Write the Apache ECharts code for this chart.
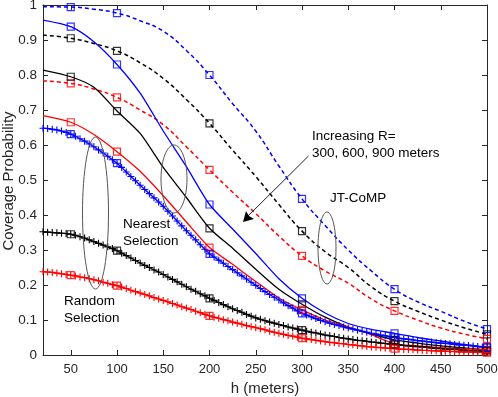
<!DOCTYPE html>
<html><head><meta charset="utf-8">
<script src="https://cdn.jsdelivr.net/npm/echarts@6/dist/echarts.min.js"></script>
<style>html,body{margin:0;padding:0;background:#fff}#c{width:498px;height:397px}</style>
</head><body><div id="c"></div>
<script>
// x positions (meters)
const xCoarse = [20,50,75,100,125,150,175,200,225,250,275,300,325,350,375,400,425,450,475,500];
const xFine = [];
for (let v = 20; v <= 500; v += 5) xFine.push(v);
const markerX = [50,100,200,300,400,500];
const xTicks = [50,100,150,200,250,300,350,400,450,500];

// JT-CoMP (dashed)
const jtBlue  = [0.995,0.994,0.988,0.977,0.955,0.925,0.870,0.800,0.718,0.640,0.540,0.446,0.370,0.300,0.240,0.188,0.152,0.125,0.097,0.074];
const jtBlack = [0.914,0.905,0.890,0.869,0.835,0.790,0.730,0.662,0.585,0.510,0.430,0.354,0.295,0.250,0.195,0.154,0.125,0.100,0.078,0.059];
const jtRed   = [0.783,0.776,0.760,0.736,0.700,0.658,0.595,0.529,0.465,0.404,0.340,0.283,0.240,0.205,0.160,0.126,0.100,0.077,0.060,0.046];

// Nearest selection (solid)
const nsBlue  = [0.957,0.938,0.895,0.830,0.748,0.640,0.538,0.430,0.360,0.290,0.218,0.162,0.120,0.090,0.073,0.062,0.050,0.040,0.030,0.022];
const nsBlack = [0.814,0.795,0.765,0.697,0.633,0.536,0.450,0.362,0.305,0.245,0.188,0.145,0.108,0.080,0.060,0.043,0.034,0.026,0.020,0.014];
const nsRed   = [0.684,0.665,0.630,0.581,0.525,0.455,0.380,0.307,0.259,0.210,0.163,0.129,0.100,0.080,0.058,0.032,0.026,0.021,0.018,0.015];

// Random selection (plus markers)
const rsBlue = [0.648,0.647,0.645,0.643,0.640,0.636,0.631,0.625,0.618,0.611,0.603,
0.595,0.586,0.577,0.568,0.558,0.548,0.536,0.523,0.510,0.498,
0.485,0.473,0.461,0.449,0.437,0.425,0.411,0.397,0.383,0.369,
0.355,0.342,0.329,0.315,0.302,0.289,0.280,0.271,0.262,0.253,
0.244,0.235,0.226,0.217,0.208,0.199,0.190,0.181,0.173,0.165,
0.157,0.149,0.141,0.134,0.126,0.119,0.114,0.109,0.104,0.099,
0.095,0.091,0.087,0.084,0.080,0.077,0.074,0.071,0.068,0.065,
0.062,0.060,0.057,0.055,0.052,0.050,0.048,0.046,0.045,0.043,
0.041,0.040,0.038,0.037,0.035,0.034,0.033,0.032,0.030,0.029,
0.028,0.027,0.026,0.024,0.023,0.022];
const rsBlack = [0.352,0.351,0.350,0.349,0.348,0.347,0.345,0.342,0.338,0.334,0.329,
0.324,0.319,0.314,0.309,0.304,0.298,0.291,0.284,0.277,0.270,
0.263,0.256,0.250,0.243,0.237,0.230,0.223,0.216,0.209,0.202,
0.195,0.188,0.182,0.175,0.169,0.162,0.156,0.150,0.144,0.138,
0.132,0.127,0.122,0.116,0.111,0.106,0.102,0.098,0.094,0.091,
0.087,0.084,0.080,0.077,0.074,0.071,0.068,0.065,0.063,0.060,
0.057,0.055,0.053,0.050,0.048,0.046,0.044,0.042,0.041,0.039,
0.037,0.036,0.034,0.033,0.031,0.030,0.029,0.027,0.026,0.025,
0.024,0.023,0.022,0.020,0.019,0.018,0.017,0.016,0.016,0.015,
0.014,0.013,0.012,0.012,0.011,0.010];
const rsRed = [0.238,0.237,0.236,0.234,0.232,0.230,0.228,0.226,0.223,0.221,0.218,
0.215,0.212,0.208,0.205,0.201,0.198,0.194,0.190,0.185,0.181,
0.177,0.173,0.169,0.164,0.160,0.156,0.152,0.147,0.143,0.138,
0.134,0.130,0.125,0.121,0.116,0.112,0.108,0.105,0.101,0.098,
0.094,0.091,0.088,0.084,0.081,0.078,0.075,0.072,0.068,0.065,
0.062,0.059,0.056,0.054,0.051,0.048,0.046,0.044,0.042,0.040,
0.038,0.036,0.035,0.033,0.032,0.030,0.029,0.027,0.026,0.024,
0.023,0.022,0.021,0.020,0.019,0.018,0.017,0.016,0.016,0.015,
0.014,0.013,0.013,0.012,0.012,0.011,0.011,0.010,0.010,0.009,
0.009,0.009,0.008,0.008,0.007,0.007];

const BLUE = '#0000ff', RED = '#ff0000', BLACK = '#000000', AX = '#262626';
const PLUS = 'path://M5 0 L5 10 M0 5 L10 5';

function pairs(xs, ys) { return xs.map((x, i) => [x, ys[i]]); }
function marks(xs, ys) { return markerX.map(m => [m, ys[xs.indexOf(m)]]); }

const series = [];
function addCurve(xs, ys, color, kind) {
  const base = {
    type: 'line', data: pairs(xs, ys), animation: false, silent: true, z: 3,
    lineStyle: { color: color, width: kind === 'dash' ? 1.5 : 1.3, type: kind === 'dash' ? [4, 3] : 'solid' }
  };
  if (kind === 'plus') {
    Object.assign(base, {
      symbol: PLUS, symbolSize: 7, showSymbol: true, showAllSymbol: true,
      itemStyle: { color: 'transparent', borderColor: color, borderWidth: 1.1 }
    });
  } else {
    Object.assign(base, { symbol: 'none', smooth: kind === 'dash' ? true : 0.25 });
  }
  series.push(base);
  series.push({
    type: 'scatter', data: marks(xs, ys), symbol: 'rect', symbolSize: 7, animation: false, silent: true, z: 4,
    itemStyle: { color: 'transparent', borderColor: color, borderWidth: 1.2 }
  });
}
addCurve(xCoarse, jtBlue, BLUE, 'dash');
addCurve(xCoarse, jtBlack, BLACK, 'dash');
addCurve(xCoarse, jtRed, RED, 'dash');
addCurve(xCoarse, nsBlue, BLUE, 'solid');
addCurve(xCoarse, nsBlack, BLACK, 'solid');
addCurve(xCoarse, nsRed, RED, 'solid');
addCurve(xFine, rsBlue, BLUE, 'plus');
addCurve(xFine, rsBlack, BLACK, 'plus');
addCurve(xFine, rsRed, RED, 'plus');

const FONT = '"Liberation Sans", Arial, sans-serif';
const axLine = { show: true, onZero: false, lineStyle: { color: AX, width: 1 } };
const chart = echarts.init(document.getElementById('c'), null, { renderer: 'canvas' });
const txt = (x, y, s) => ({ type: 'text', left: x, top: y, z: 10, style: { text: s, font: '13.5px ' + FONT, fill: '#000' } });
chart.setOption({
  animation: false,
  backgroundColor: '#fff',
  grid: { left: 43, right: 11, top: 5, bottom: 42, containLabel: false, outerBoundsMode: 'none' },
  xAxis: [
    { type: 'value', min: 20, max: 500, position: 'bottom',
      name: 'h (meters)', nameLocation: 'middle', nameGap: 26,
      nameTextStyle: { color: AX, fontSize: 15, fontFamily: FONT },
      axisLine: axLine,
      axisTick: { show: true, inside: true, length: 5, customValues: xTicks, lineStyle: { color: AX } },
      axisLabel: { customValues: xTicks, color: AX, fontSize: 13, fontFamily: FONT, margin: 8 },
      splitLine: { show: false } },
    { type: 'value', min: 20, max: 500, position: 'top',
      axisLine: axLine,
      axisTick: { show: true, inside: true, length: 5, customValues: xTicks, lineStyle: { color: AX } },
      axisLabel: { show: false }, splitLine: { show: false } }
  ],
  yAxis: [
    { type: 'value', min: 0, max: 1, interval: 0.1, position: 'left',
      axisLine: axLine,
      axisTick: { show: true, inside: true, length: 5, lineStyle: { color: AX } },
      axisLabel: { color: AX, fontSize: 13.5, fontFamily: FONT, margin: 6 },
      splitLine: { show: false } },
    { type: 'value', min: 0, max: 1, interval: 0.1, position: 'right',
      axisLine: axLine,
      axisTick: { show: true, inside: true, length: 5, lineStyle: { color: AX } },
      axisLabel: { show: false }, splitLine: { show: false } }
  ],
  series: series,
  graphic: [
    { type: 'text', x: 9, y: 181, rotation: Math.PI / 2, z: 10,
      style: { text: 'Coverage Probability', font: '15px ' + FONT, fill: AX, align: 'center', verticalAlign: 'middle' } },
    { type: 'ellipse', z: 10, shape: { cx: 327, cy: 248, rx: 9, ry: 36 }, style: { fill: 'none', stroke: '#555', lineWidth: 1 } },
    { type: 'ellipse', z: 10, shape: { cx: 174, cy: 179, rx: 13, ry: 34 }, style: { fill: 'none', stroke: '#555', lineWidth: 1 } },
    { type: 'ellipse', z: 10, shape: { cx: 95.5, cy: 213, rx: 13, ry: 76 }, style: { fill: 'none', stroke: '#555', lineWidth: 1 } },
    { type: 'line', z: 10, shape: { x1: 308.5, y1: 156, x2: 246, y2: 218 }, style: { stroke: '#222', lineWidth: 1 } },
    { type: 'polygon', z: 10, shape: { points: [[243, 222], [246, 211], [249, 216], [254, 219]] }, style: { fill: '#000' } },
    txt(312, 129, 'Increasing R='),
    txt(312, 146, '300, 600, 900 meters'),
    txt(330, 191, 'JT-CoMP'),
    txt(123, 217, 'Nearest'),
    txt(123, 234, 'Selection'),
    txt(64, 294, 'Random'),
    txt(64, 311, 'Selection')
  ]
});
</script>
</body></html>
